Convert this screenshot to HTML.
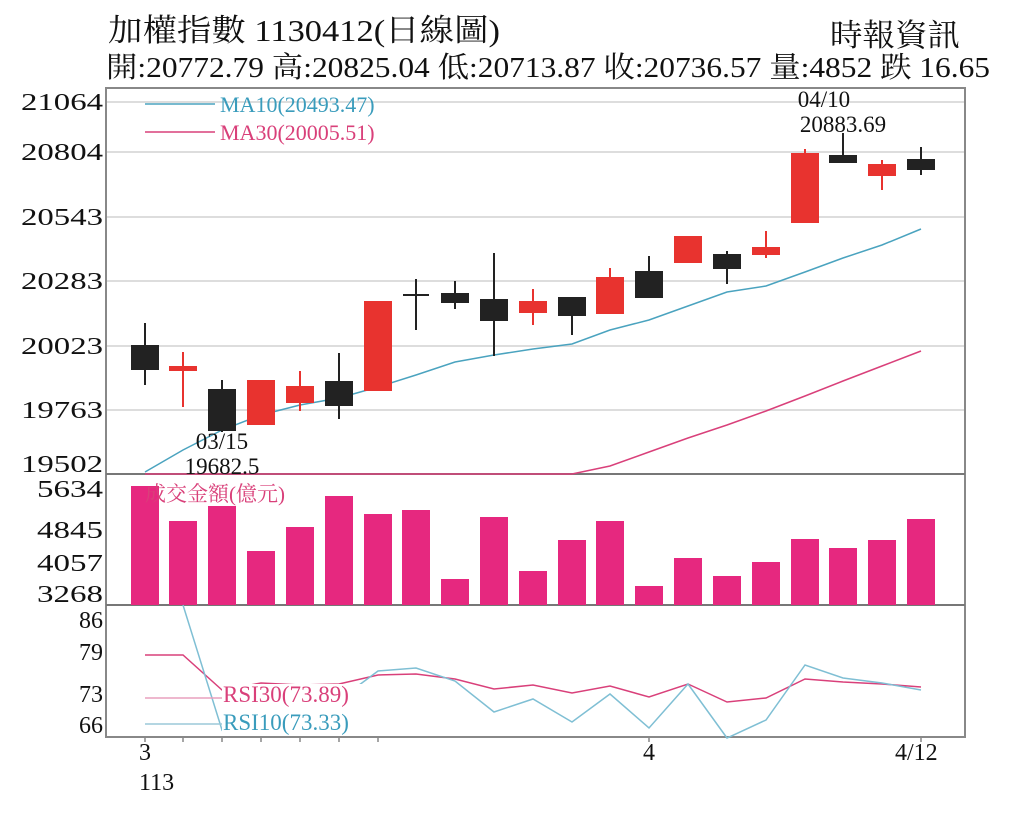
<!DOCTYPE html>
<html><head><meta charset="utf-8"><style>
body{margin:0;background:#fff;width:1024px;height:820px;overflow:hidden}
svg{font-family:"Liberation Serif","Noto Serif CJK SC","Noto Sans CJK TC",serif}
</style></head><body>
<svg width="1024" height="820" viewBox="0 0 1024 820">
<text x="108" y="41" font-size="31" fill="#111" textLength="392" lengthAdjust="spacingAndGlyphs">加權指數 1130412(日線圖)</text>
<text x="830" y="46" font-size="31" fill="#111" textLength="130" lengthAdjust="spacingAndGlyphs">時報資訊</text>
<text x="106" y="77" font-size="29" fill="#111" textLength="884" lengthAdjust="spacingAndGlyphs">開:20772.79 高:20825.04 低:20713.87 收:20736.57 量:4852 跌 16.65</text>
<g stroke="#ddd" stroke-width="2">
<line x1="106" y1="102" x2="965" y2="102"/><line x1="106" y1="152" x2="965" y2="152"/><line x1="106" y1="217" x2="965" y2="217"/><line x1="106" y1="281" x2="965" y2="281"/><line x1="106" y1="346" x2="965" y2="346"/><line x1="106" y1="410" x2="965" y2="410"/>
</g>
<rect x="106" y="88" width="859" height="649" fill="none" stroke="#888" stroke-width="2"/>
<line x1="106" y1="474" x2="965" y2="474" stroke="#777" stroke-width="2"/>
<line x1="106" y1="605" x2="965" y2="605" stroke="#777" stroke-width="2"/>
<g font-size="24" fill="#111" text-anchor="end">
<text x="103" y="110" textLength="82" lengthAdjust="spacingAndGlyphs">21064</text><text x="103" y="160" textLength="82" lengthAdjust="spacingAndGlyphs">20804</text><text x="103" y="225" textLength="82" lengthAdjust="spacingAndGlyphs">20543</text><text x="103" y="289" textLength="82" lengthAdjust="spacingAndGlyphs">20283</text><text x="103" y="354" textLength="82" lengthAdjust="spacingAndGlyphs">20023</text><text x="103" y="418" textLength="82" lengthAdjust="spacingAndGlyphs">19763</text><text x="103" y="472" textLength="82" lengthAdjust="spacingAndGlyphs">19502</text>
<text x="103" y="497" textLength="66" lengthAdjust="spacingAndGlyphs">5634</text><text x="103" y="538" textLength="66" lengthAdjust="spacingAndGlyphs">4845</text><text x="103" y="571" textLength="66" lengthAdjust="spacingAndGlyphs">4057</text><text x="103" y="602" textLength="66" lengthAdjust="spacingAndGlyphs">3268</text>
<text x="103" y="628">86</text><text x="103" y="660">79</text><text x="103" y="702">73</text><text x="103" y="733">66</text>
</g>
<polyline fill="none" stroke="#4aa3bf" stroke-width="1.5" points="145,472 183,450 222,430 261,415 300,405 339,398 378,387 416,375 455,362 494,355 533,349 572,344 610,330 649,320 688,306 727,292 766,286 805,272 843,258 882,245 921,229"/>
<polyline fill="none" stroke="#d9407a" stroke-width="1.5" points="145,474 572,474 610,466 649,452 688,438 727,425 766,411 805,396 843,381 882,366 921,351"/>
<line x1="145" y1="104" x2="215" y2="104" stroke="#4aa3bf" stroke-width="1.5"/>
<line x1="145" y1="132" x2="215" y2="132" stroke="#d9407a" stroke-width="1.5"/>
<text x="220" y="112" font-size="22" fill="#3a9cbc">MA10(20493.47)</text>
<text x="220" y="140" font-size="22" fill="#d9407a">MA30(20005.51)</text>
<g stroke-width="2">
<g stroke="#222" fill="#222">
<line x1="145" y1="323" x2="145" y2="385"/><rect x="132" y="346" width="26" height="23"/>
<line x1="222" y1="380" x2="222" y2="432"/><rect x="209" y="390" width="26" height="40"/>
<line x1="339" y1="353" x2="339" y2="419"/><rect x="326" y="382" width="26" height="23"/>
<line x1="416" y1="279" x2="416" y2="330"/><line x1="403" y1="295" x2="429" y2="295"/>
<line x1="455" y1="281" x2="455" y2="309"/><rect x="442" y="294" width="26" height="8"/>
<line x1="494" y1="253" x2="494" y2="356"/><rect x="481" y="300" width="26" height="20"/>
<line x1="572" y1="297" x2="572" y2="335"/><rect x="559" y="298" width="26" height="17"/>
<line x1="649" y1="256" x2="649" y2="297"/><rect x="636" y="272" width="26" height="25"/>
<line x1="727" y1="251" x2="727" y2="284"/><rect x="714" y="255" width="26" height="13"/>
<line x1="843" y1="133" x2="843" y2="162"/><rect x="830" y="156" width="26" height="6"/>
<line x1="921" y1="147" x2="921" y2="175"/><rect x="908" y="160" width="26" height="9"/>
</g>
<g stroke="#e8332f" fill="#e8332f">
<line x1="183" y1="352" x2="183" y2="407"/><rect x="170" y="367" width="26" height="3"/>
<rect x="248" y="381" width="26" height="43"/>
<line x1="300" y1="371" x2="300" y2="411"/><rect x="287" y="387" width="26" height="15"/>
<rect x="365" y="302" width="26" height="88"/>
<line x1="533" y1="289" x2="533" y2="325"/><rect x="520" y="302" width="26" height="10"/>
<line x1="610" y1="268" x2="610" y2="278"/><rect x="597" y="278" width="26" height="35"/>
<rect x="675" y="237" width="26" height="25"/>
<line x1="766" y1="231" x2="766" y2="258"/><rect x="753" y="248" width="26" height="6"/>
<line x1="805" y1="149" x2="805" y2="154"/><rect x="792" y="154" width="26" height="68"/>
<line x1="882" y1="160" x2="882" y2="190"/><rect x="869" y="165" width="26" height="10"/>
</g>
</g>
<g font-size="23" fill="#111" text-anchor="middle">
<text x="222" y="449">03/15</text><text x="222" y="474">19682.5</text>
<text x="824" y="107">04/10</text><text x="843" y="132">20883.69</text>
</g>
<g fill="#e6287f">
<rect x="131" y="486" width="28" height="119"/><rect x="169" y="521" width="28" height="84"/><rect x="208" y="506" width="28" height="99"/><rect x="247" y="551" width="28" height="54"/><rect x="286" y="527" width="28" height="78"/><rect x="325" y="496" width="28" height="109"/><rect x="364" y="514" width="28" height="91"/><rect x="402" y="510" width="28" height="95"/><rect x="441" y="579" width="28" height="26"/><rect x="480" y="517" width="28" height="88"/><rect x="519" y="571" width="28" height="34"/><rect x="558" y="540" width="28" height="65"/><rect x="596" y="521" width="28" height="84"/><rect x="635" y="586" width="28" height="19"/><rect x="674" y="558" width="28" height="47"/><rect x="713" y="576" width="28" height="29"/><rect x="752" y="562" width="28" height="43"/><rect x="791" y="539" width="28" height="66"/><rect x="829" y="548" width="28" height="57"/><rect x="868" y="540" width="28" height="65"/><rect x="907" y="519" width="28" height="86"/>
</g>
<text x="145" y="501" font-size="21" fill="#d9407a">成交金額(億元)</text>
<polyline fill="none" stroke="#d9407a" stroke-width="1.5" points="145,655 183,655 222,690 261,683 300,685 339,684 378,675 416,674 455,679 494,689 533,685 572,693 610,686 649,697 688,684 727,702 766,698 805,679 843,682 882,684 921,687"/>
<polyline fill="none" stroke="#7fbfd4" stroke-width="1.5" points="183,605 222,730 261,700 300,705 339,700 378,671 416,668 455,681 494,712 533,699 572,722 610,694 649,728 688,684 727,738 766,720 805,665 843,678 882,683 921,690"/>
<line x1="145" y1="698" x2="222" y2="698" stroke="#e9a0bd" stroke-width="1.5"/>
<line x1="145" y1="724" x2="222" y2="724" stroke="#9cc9d8" stroke-width="1.5"/>
<rect x="222" y="684" width="140" height="50" fill="#fff"/>
<text x="223" y="702" font-size="23" fill="#d9407a">RSI30(73.89)</text>
<text x="223" y="730" font-size="23" fill="#3a9cbc">RSI10(73.33)</text>
<g stroke="#888" stroke-width="1.5">
<line x1="145" y1="737" x2="145" y2="742"/><line x1="183" y1="737" x2="183" y2="742"/><line x1="222" y1="737" x2="222" y2="742"/><line x1="261" y1="737" x2="261" y2="742"/><line x1="300" y1="737" x2="300" y2="742"/><line x1="339" y1="737" x2="339" y2="742"/><line x1="378" y1="737" x2="378" y2="742"/><line x1="649" y1="737" x2="649" y2="742"/><line x1="921" y1="737" x2="921" y2="742"/>
</g>
<g font-size="24" fill="#111">
<text x="139" y="760">3</text><text x="139" y="790">113</text>
<text x="643" y="760">4</text><text x="895" y="760">4/12</text>
</g>
</svg>
</body></html>
